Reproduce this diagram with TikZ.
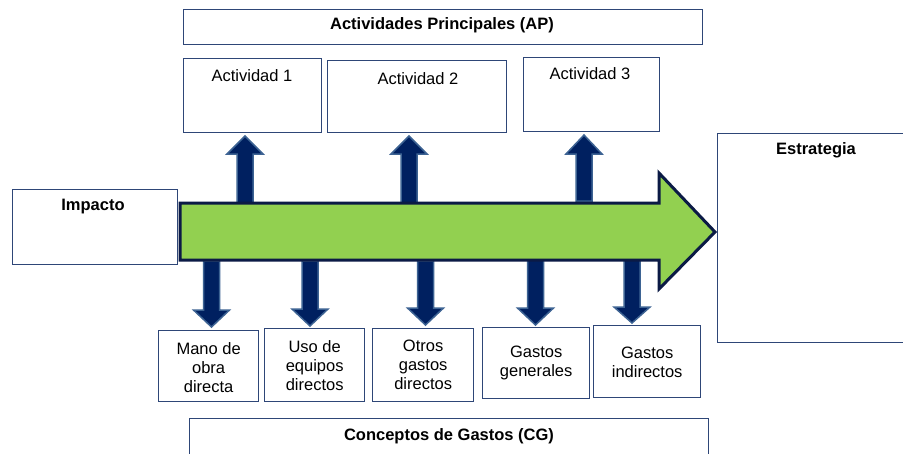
\documentclass[tikz,border=0pt]{standalone}
\usepackage{fontspec}
\setmainfont{Liberation Sans}
\definecolor{boxline}{HTML}{2E4677}
\definecolor{arrfill}{HTML}{002060}
\definecolor{arrline}{HTML}{3D6393}
\definecolor{greenfill}{HTML}{92D050}
\definecolor{greenline}{HTML}{0B1A45}
\tikzset{
  box/.style={draw=boxline, line width=1.3pt, fill=white, inner sep=0pt, anchor=north west},
  lbl/.style={font=\fontsize{16.5}{19}\selectfont, align=center, inner sep=0pt},
  blbl/.style={font=\fontsize{16.5}{19}\selectfont\bfseries, align=center, inner sep=0pt},
  blockarrow/.style={fill=arrfill, draw=arrline, line width=1.5pt, line join=miter},
  bigarrow/.style={fill=greenfill, draw=greenline, line width=3pt, line join=miter}
}
\newcommand{\uparr}[4]{% x, tip y, head base y, bottom y
  \draw[blockarrow] (#1-8,#4) -- (#1-8,#3) -- (#1-18,#3) -- (#1,#2) -- (#1+18,#3) -- (#1+8,#3) -- (#1+8,#4) -- cycle;}
\newcommand{\downarr}[4]{% x, top y, head base y, tip y
  \draw[blockarrow] (#1-8,#2) -- (#1-8,#3) -- (#1-18,#3) -- (#1,#4) -- (#1+18,#3) -- (#1+8,#3) -- (#1+8,#2) -- cycle;}
\begin{document}
\begin{tikzpicture}[x=1pt,y=-1pt]
\useasboundingbox (0,0) rectangle (903,453);
\fill[white] (0,0) rectangle (903,453);

% top boxes
\node[box, minimum width=519pt, minimum height=35pt] (ap) at (183,9) {};
\node[blbl] (aptxt) at (442,25) {Actividades Principales (AP)};
\node[box, minimum width=138pt, minimum height=74pt] (act1) at (183,58) {};
\node[lbl] (act1txt) at (252,76) {Actividad 1};
\node[box, minimum width=179pt, minimum height=72pt] (act2) at (327,60) {};
\node[lbl] (act2txt) at (418,79) {Actividad 2};
\node[box, minimum width=136pt, minimum height=74pt] (act3) at (523,57) {};
\node[lbl] (act3txt) at (590,74) {Actividad 3};

% side boxes
\node[box, minimum width=165pt, minimum height=75pt] (imp) at (12,189) {};
\node[blbl] (imptxt) at (93,207) {Impacto};
\node[box, minimum width=200pt, minimum height=209pt] (est) at (717,133) {};
\node[blbl] (esttxt) at (816,150) {Estrategia};

% bottom boxes
\node[box, minimum width=100pt, minimum height=71pt] (mano) at (158,330) {};
\node[lbl] at (mano.center) [yshift=-1.5pt] {Mano de\\obra\\directa};
\node[box, minimum width=100pt, minimum height=73pt] (uso) at (264,328) {};
\node[lbl] at (uso.center) [yshift=0pt] {Uso de\\equipos\\directos};
\node[box, minimum width=101pt, minimum height=73pt] (otros) at (372,328) {};
\node[lbl] at (otros.center) [yshift=0pt] {Otros\\gastos\\directos};
\node[box, minimum width=107pt, minimum height=71pt] (gen) at (482,327) {};
\node[lbl] at (gen.center) {Gastos\\generales};
\node[box, minimum width=107pt, minimum height=72pt] (ind) at (593,325) {};
\node[lbl] at (ind.center) [yshift=-0.5pt] {Gastos\\indirectos};
\node[box, minimum width=519pt, minimum height=50pt] (cg) at (189,418) {};
\node[blbl] (cgtxt) at (449,436) {Conceptos de Gastos (CG)};

% small arrows
\uparr{245}{136}{154}{203}
\uparr{409}{136}{154}{203}
\uparr{584}{135}{154}{201}
\downarr{211.5}{261}{310}{327}
\downarr{310}{261}{309}{326}
\downarr{425.5}{261}{308}{325}
\downarr{535.5}{259}{308}{325}
\downarr{632}{259}{307}{323}

% big green arrow
\draw[bigarrow] (180,203) -- (659,203) -- (659,173) -- (715,232) -- (659,289) -- (659,260) -- (180,260) -- cycle;
\end{tikzpicture}
\end{document}
